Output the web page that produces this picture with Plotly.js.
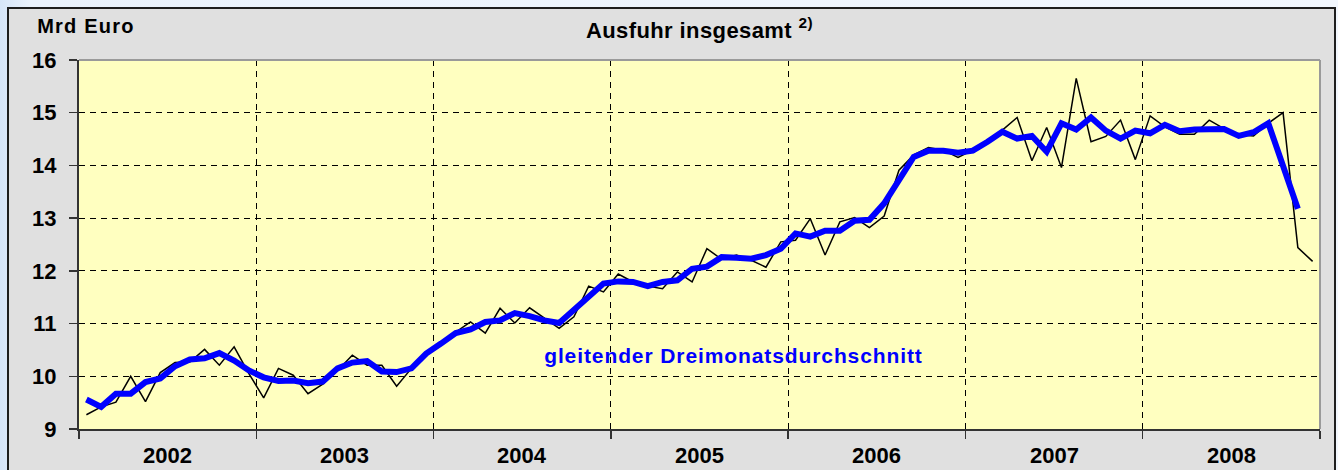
<!DOCTYPE html>
<html>
<head>
<meta charset="utf-8">
<script src="https://cdn.plot.ly/plotly-3.0.1.min.js"></script>
<style>
  html, body { margin: 0; padding: 0; width: 1338px; height: 470px; overflow: hidden;
    background: linear-gradient(to right, #d6e5f8 0px, #eaf2fc 30px, #f2f7fe 100%); }
  #chart { position: absolute; left: 7px; top: 7px; width: 1325px; height: 461px;
    border: 2px solid #1e1e1e; background: #e0e0e0; }
  #chart .annotation[data-index="7"] text { letter-spacing: 1.2px; }
  #chart .annotation[data-index="8"] text { letter-spacing: 0.9px; }
  #chart .gtitle { letter-spacing: 0.4px; }
</style>
</head>
<body>
<div id="chart"></div>
<script>
// Year labels (one per 12 months on the axis)
const years = ['2002', '2003', '2004', '2005', '2006', '2007', '2008'];

// Ausfuhr insgesamt, Mrd Euro, monthly values Jan 2002 .. Dec 2008
const exportsMonthly = [
  9.27, 9.42, 9.51, 10.00, 9.52, 10.07, 10.26, 10.27, 10.51, 10.21, 10.56, 10.05,
  9.59, 10.15, 10.02, 9.67, 9.85, 10.11, 10.40, 10.21, 10.21, 9.81, 10.15, 10.43,
  10.62, 10.84, 11.03, 10.82, 11.29, 11.01, 11.30, 11.10, 10.91, 11.13, 11.71, 11.60,
  11.94, 11.79, 11.71, 11.66, 11.98, 11.79, 12.42, 12.22, 12.30, 12.20, 12.07, 12.55,
  12.58, 12.99, 12.30, 12.93, 13.01, 12.82, 13.04, 13.91, 14.20, 14.34, 14.29, 14.15,
  14.29, 14.48, 14.67, 14.91, 14.09, 14.72, 13.96, 15.65, 14.45, 14.55, 14.86, 14.11,
  14.94, 14.73, 14.59, 14.59, 14.86, 14.70, 14.58, 14.56, 14.80, 15.00, 12.44, 12.18
];

// gleitender Dreimonatsdurchschnitt, Jan 2002 .. Nov 2008
const movingAvg3 = [
  9.56, 9.42, 9.67, 9.67, 9.89, 9.96, 10.19, 10.32, 10.34, 10.44, 10.30, 10.11,
  9.98, 9.91, 9.92, 9.87, 9.90, 10.15, 10.26, 10.29, 10.09, 10.08, 10.15, 10.43,
  10.62, 10.82, 10.89, 11.03, 11.06, 11.20, 11.14, 11.06, 11.01, 11.25, 11.51, 11.76,
  11.80, 11.79, 11.71, 11.79, 11.82, 12.04, 12.08, 12.26, 12.25, 12.23, 12.30, 12.42,
  12.71, 12.65, 12.76, 12.76, 12.95, 12.97, 13.28, 13.72, 14.16, 14.28, 14.28, 14.24,
  14.28, 14.45, 14.64, 14.51, 14.56, 14.26, 14.80, 14.68, 14.91, 14.66, 14.51, 14.66,
  14.61, 14.77, 14.65, 14.68, 14.69, 14.69, 14.56, 14.63, 14.80, 14.00, 13.18
];

const yTicks = [9, 10, 11, 12, 13, 14, 15, 16];
const monthsPerYear = 12;

const idx = arr => arr.map((_, i) => i);
const yearBounds = [-0.5].concat(years.map((_, k) => (k + 1) * monthsPerYear - 0.5));
const yearCenters = years.map((_, k) => k * monthsPerYear + (monthsPerYear - 1) / 2);

const FONT = '"Liberation Sans", Arial, sans-serif';

const traces = [
  {
    x: idx(exportsMonthly), y: exportsMonthly, type: 'scatter', mode: 'lines',
    line: { color: '#000000', width: 1.5 }, hoverinfo: 'skip', showlegend: false
  },
  {
    x: idx(movingAvg3), y: movingAvg3, type: 'scatter', mode: 'lines',
    line: { color: '#0000ff', width: 6 }, hoverinfo: 'skip', showlegend: false
  }
];

const annotations = years.map((yr, k) => ({
  x: yearCenters[k], xref: 'x', y: 0, yref: 'paper', yanchor: 'top', yshift: -12,
  text: yr, showarrow: false,
  font: { family: FONT, size: 22, color: '#000', weight: 'bold' }
}));
annotations.push({
  x: -39 / 1239, xref: 'paper', xanchor: 'left', y: 1 + 34 / 369, yref: 'paper', yanchor: 'middle',
  text: 'Mrd Euro', showarrow: false,
  font: { family: FONT, size: 20, color: '#000', weight: 'bold' }
});
annotations.push({
  x: 43.8, xref: 'x', y: 10.4, yref: 'y', xanchor: 'center', yanchor: 'middle',
  text: 'gleitender Dreimonatsdurchschnitt', showarrow: false,
  font: { family: FONT, size: 21, color: '#0000ff', weight: 'bold' }
});

const layout = {
  width: 1325, height: 461,
  margin: { l: 70, r: 14, t: 51, b: 41, pad: 0 },
  paper_bgcolor: '#e0e0e0',
  plot_bgcolor: '#ffffc0',
  title: {
    text: 'Ausfuhr insgesamt <sup>2)</sup>',
    x: 0.5, xref: 'paper', xanchor: 'center',
    y: 1 - 21 / 461, yref: 'container', yanchor: 'middle',
    font: { family: FONT, size: 22, color: '#000', weight: 'bold' }
  },
  xaxis: {
    range: [-0.5, exportsMonthly.length - 0.5],
    tickmode: 'array', tickvals: yearBounds, showticklabels: false,
    ticks: 'outside', ticklen: 8, tickwidth: 1.5, tickcolor: '#333',
    showgrid: true, gridcolor: '#000', gridwidth: 1, griddash: '6px,5px',
    showline: true, linecolor: '#333', linewidth: 2,
    zeroline: false, fixedrange: true
  },
  yaxis: {
    range: [9, 16],
    tickmode: 'array', tickvals: yTicks, ticktext: yTicks.map(String),
    ticks: 'outside', ticklen: 8, tickwidth: 1.5, tickcolor: '#333',
    ticklabelstandoff: 8,
    tickfont: { family: FONT, size: 22, color: '#000', weight: 'bold' },
    showgrid: true, gridcolor: '#000', gridwidth: 1, griddash: '6px,5px',
    showline: true, linecolor: '#333', linewidth: 2,
    zeroline: false, fixedrange: true
  },
  shapes: [
    { type: 'line', xref: 'paper', yref: 'paper', x0: 0, x1: 1, y0: 1, y1: 1,
      line: { color: '#9a9a9a', width: 2 }, layer: 'above' },
    { type: 'line', xref: 'paper', yref: 'paper', x0: 1, x1: 1, y0: 0, y1: 1,
      line: { color: '#9a9a9a', width: 2 }, layer: 'above' }
  ],
  annotations: annotations,
  showlegend: false
};

Plotly.newPlot('chart', traces, layout, { displayModeBar: false, staticPlot: true });
</script>
</body>
</html>
